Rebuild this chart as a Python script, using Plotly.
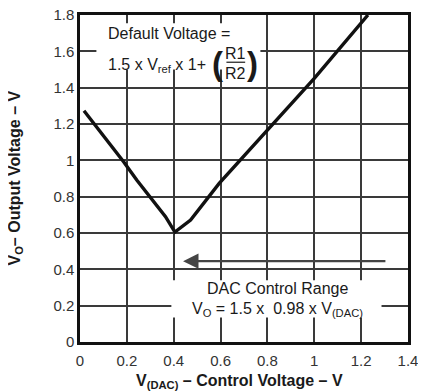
import plotly.graph_objects as go

# curve
v_dac = [0.017, 0.086, 0.143, 0.186, 0.243, 0.286, 0.365, 0.405, 0.472, 0.594, 0.807, 1.0, 1.229]
v_out = [1.273, 1.157, 1.066, 0.992, 0.89, 0.818, 0.69, 0.605, 0.671, 0.873, 1.176, 1.451, 1.80]

x_ticks = [0, 0.2, 0.4, 0.6, 0.8, 1, 1.2, 1.4]
y_ticks = [0, 0.2, 0.4, 0.6, 0.8, 1, 1.2, 1.4, 1.6, 1.8]

FONT = "Liberation Sans, Arial, sans-serif"
INK = "#1a1a1a"
GRID = "#3a3a3a"

fig = go.Figure()
fig.add_trace(
    go.Scatter(
        x=v_dac,
        y=v_out,
        mode="lines",
        line=dict(color="#111111", width=3.4),
        showlegend=False,
        hoverinfo="skip",
    )
)

# white boxes behind the two notes (they break the grid)
fig.add_shape(type="rect", x0=0.07, x1=0.77, y0=1.5, y1=1.755,
              fillcolor="white", line_width=0, layer="between")
fig.add_shape(type="rect", x0=0.39, x1=1.287, y0=0.135, y1=0.34,
              fillcolor="white", line_width=0, layer="between")

note = dict(size=16, color=INK, family=FONT)
paren = dict(size=33, color=INK, family=FONT)
fig.add_annotation(x=0.11, y=1.70, text="Default Voltage =", showarrow=False,
                   xanchor="left", font=note)
fig.add_annotation(x=0.11, y=1.52, text="1.5 x V<sub>ref</sub> x 1+", showarrow=False,
                   xanchor="left", font=note)
fig.add_annotation(x=0.588, y=1.535, text="<b>(</b>", showarrow=False, font=paren)
fig.add_annotation(x=0.738, y=1.535, text="<b>)</b>", showarrow=False, font=paren)
fig.add_annotation(x=0.665, y=1.59, text="R1", showarrow=False, font=note)
fig.add_annotation(x=0.665, y=1.48, text="R2", showarrow=False, font=note)
fig.add_shape(type="line", x0=0.625, x1=0.705, y0=1.54, y1=1.54,
              line=dict(color=INK, width=1.2))

fig.add_annotation(x=0.845, y=0.297, text="DAC Control Range", showarrow=False, font=note)
fig.add_annotation(x=0.845, y=0.18, text="V<sub>O</sub> = 1.5 x  0.98 x V<sub>(DAC)</sub>",
                   showarrow=False, font=note)

# arrow for the control range
fig.add_annotation(x=0.44, y=0.445, ax=1.31, ay=0.445, xref="x", yref="y",
                   axref="x", ayref="y", text="", showarrow=True,
                   arrowhead=2, arrowsize=1.4, arrowwidth=2.2, arrowcolor="#444444",
                   standoff=0)

# axis titles as paper annotations so they sit where the reference has them
fig.add_annotation(x=0.485, y=0, xref="paper", yref="paper", yanchor="top", yshift=-28,
                   text="<b>V<sub>(DAC)</sub> – Control Voltage – V</b>", showarrow=False,
                   font=dict(size=16, color=INK, family=FONT))
fig.add_annotation(x=0, y=0.5, xref="paper", yref="paper", xanchor="center", xshift=-65,
                   textangle=-90, text="<b>V<sub>O</sub>– Output Voltage – V</b>",
                   showarrow=False, font=dict(size=16, color=INK, family=FONT))

# the page body has an 8px margin, so the figure is trimmed by that much
fig.update_layout(
    width=418,
    height=383,
    margin=dict(l=72, r=18, t=7, b=49),
    paper_bgcolor="white",
    plot_bgcolor="white",
    font=dict(family=FONT, size=15, color=INK),
    showlegend=False,
)
fig.update_xaxes(
    range=[0, 1.4],
    tickvals=x_ticks,
    showgrid=True,
    gridcolor=GRID,
    gridwidth=1.5,
    showline=True,
    linecolor="#111111",
    linewidth=2.5,
    mirror=True,
    zeroline=False,
    ticks="",
    automargin=False,
    ticklabeloverflow="allow",
    ticklabelstandoff=3,
    tickfont=dict(size=15, color="#333333"),
)
fig.update_yaxes(
    range=[0, 1.8],
    tickvals=y_ticks,
    showgrid=True,
    gridcolor=GRID,
    gridwidth=1.5,
    showline=True,
    linecolor="#111111",
    linewidth=2.5,
    mirror=True,
    zeroline=False,
    ticks="",
    automargin=False,
    ticklabeloverflow="allow",
    tickfont=dict(size=15, color="#333333"),
)

fig.write_html("out.html")
